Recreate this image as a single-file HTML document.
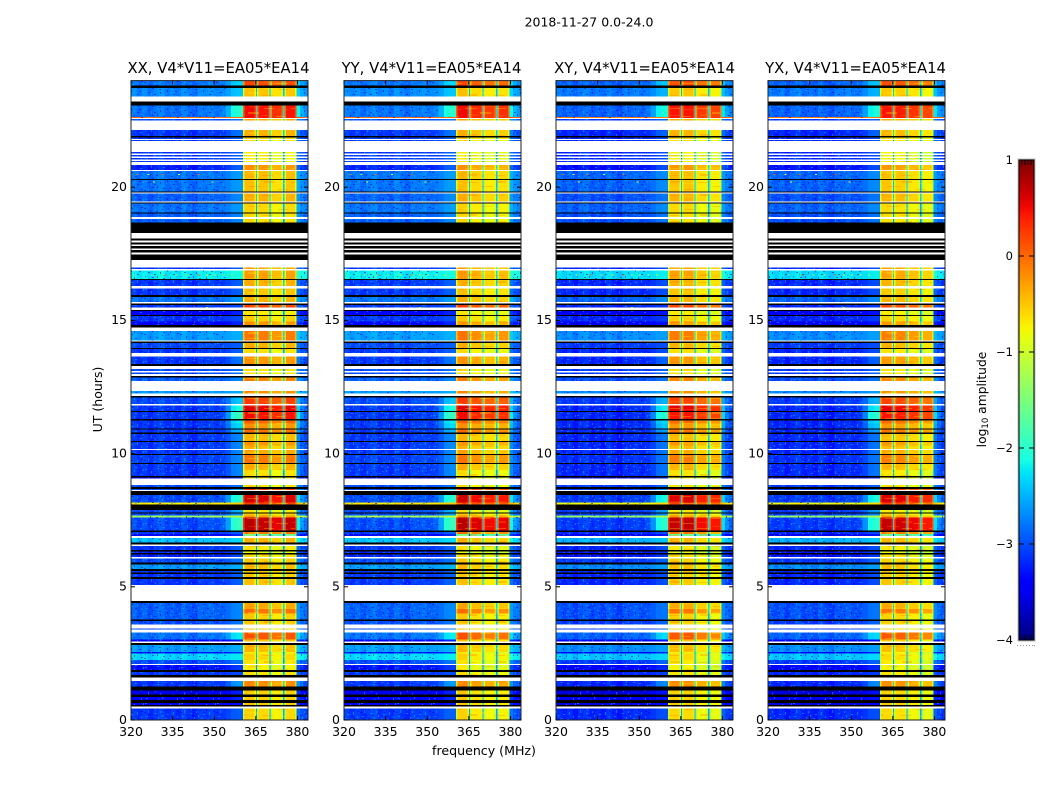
<!DOCTYPE html>
<html lang="en">
<head>
<meta charset="utf-8">
<title>2018-11-27 0.0-24.0</title>
<style>
html,body{margin:0;padding:0;background:#fff}
svg{display:block}
text{font-family:"DejaVu Sans","Liberation Sans",sans-serif;fill:#000}
</style>
</head>
<body>
<svg id="fig" xmlns="http://www.w3.org/2000/svg" width="1050" height="800" viewBox="0 0 1050 800">
<defs>
<linearGradient id="cbarGrad" x1="0" y1="1" x2="0" y2="0"></linearGradient>
<pattern id="speckle" patternUnits="userSpaceOnUse" width="36" height="18">
<g fill="#00b4ff" fill-opacity=".55">
<rect x="1" y="1" width="2" height="1"/><rect x="7" y="3" width="1" height="3"/><rect x="13" y="0" width="2" height="1"/><rect x="19" y="5" width="2" height="1"/><rect x="26" y="2" width="1" height="2"/><rect x="32" y="6" width="2" height="1"/><rect x="4" y="8" width="1" height="3"/><rect x="10" y="11" width="2" height="1"/><rect x="16" y="9" width="1" height="2"/><rect x="23" y="12" width="2" height="1"/><rect x="29" y="10" width="1" height="3"/><rect x="2" y="14" width="2" height="1"/><rect x="14" y="15" width="1" height="2"/><rect x="21" y="16" width="2" height="1"/><rect x="33" y="14" width="1" height="2"/><rect x="22" y="3" width="1" height="1"/><rect x="11" y="7" width="1" height="1"/><rect x="27" y="17" width="2" height="1"/><rect x="35" y="1" width="1" height="2"/><rect x="18" y="13" width="1" height="2"/>
</g>
<g fill="#0000d2" fill-opacity=".55">
<rect x="4" y="2" width="2" height="1"/><rect x="10" y="4" width="2" height="1"/><rect x="16" y="2" width="1" height="2"/><rect x="23" y="0" width="1" height="2"/><rect x="29" y="4" width="2" height="1"/><rect x="1" y="6" width="1" height="1"/><rect x="8" y="7" width="2" height="1"/><rect x="13" y="6" width="1" height="2"/><rect x="19" y="8" width="2" height="1"/><rect x="26" y="7" width="1" height="2"/><rect x="33" y="9" width="2" height="1"/><rect x="6" y="12" width="1" height="2"/><rect x="12" y="13" width="2" height="1"/><rect x="18" y="11" width="1" height="1"/><rect x="27" y="14" width="2" height="1"/><rect x="8" y="16" width="2" height="1"/><rect x="30" y="16" width="1" height="1"/><rect x="0" y="10" width="2" height="1"/><rect x="15" y="17" width="2" height="1"/><rect x="31" y="1" width="2" height="1"/><rect x="24" y="10" width="1" height="1"/>
</g>
</pattern>
<pattern id="bandTexture" patternUnits="userSpaceOnUse" width="58" height="20">
<g fill="#ff7800" fill-opacity=".3">
<rect x="2" y="2" width="11" height="1"/><rect x="17" y="6" width="12" height="1"/><rect x="32" y="1" width="10" height="2"/><rect x="46" y="9" width="10" height="1"/><rect x="4" y="14" width="9" height="2"/><rect x="30" y="15" width="11" height="1"/>
</g>
<g fill="#fff000" fill-opacity=".3">
<rect x="1" y="8" width="12" height="1"/><rect x="16" y="12" width="11" height="2"/><rect x="44" y="3" width="12" height="1"/><rect x="32" y="8" width="10" height="1"/><rect x="15" y="18" width="12" height="1"/><rect x="44" y="16" width="9" height="1"/>
</g>
</pattern>
</defs>
<text x="589" y="26.5" font-size="12.5" text-anchor="middle">2018-11-27 0.0-24.0</text>
<text x="484" y="755" font-size="12.6" text-anchor="middle">frequency (MHz)</text>
<text x="0" y="0" font-size="12.5" text-anchor="middle" transform="translate(102 399.5) rotate(-90)">UT (hours)</text>
<g id="panels"></g>
<g id="colorbar"></g>
<text x="0" y="0" font-size="12.3" text-anchor="middle" transform="translate(986 399.5) rotate(-90)">log<tspan font-size="8.5" dy="2">10</tspan><tspan dy="-2"> amplitude</tspan></text>
</svg>
<script>
/* ---------- chart data ---------- */
const panelTitles = ["XX, V4*V11=EA05*EA14", "YY, V4*V11=EA05*EA14", "XY, V4*V11=EA05*EA14", "YX, V4*V11=EA05*EA14"];
const freqTicks = [320, 335, 350, 365, 380];
const utTicks = [0, 5, 10, 15, 20];
const cbarTicks = [-4, -3, -2, -1, 0, 1];
const W = null;   /* masked rows render white */
const K = "k";    /* zero-amplitude rows render black */

/* top UT edge of every time band, read top to bottom; the last band ends at UT 0 */
const rowTops = [
24.00,23.81,23.73,23.40,23.22,23.06,22.64,22.60,
22.55,22.50,22.15,21.92,21.86,21.81,21.77,21.73,
21.32,21.27,21.21,21.15,21.10,21.04,20.98,20.95,
20.83,20.65,20.60,20.30,20.26,19.83,19.80,19.77,
19.46,19.42,19.38,19.05,19.01,18.88,18.81,18.68,
18.28,18.08,18.00,17.93,17.84,17.79,17.69,17.64,
17.54,17.47,17.27,16.99,16.92,16.87,16.56,16.52,
16.29,16.19,15.95,15.87,15.69,15.64,15.58,15.49,
15.39,15.36,15.20,15.17,14.95,14.83,14.74,14.61,
14.24,14.20,14.16,13.96,13.92,13.77,13.64,13.36,
13.29,13.17,13.10,13.05,12.99,12.91,12.85,12.73,
12.35,12.26,12.17,12.11,11.86,11.80,11.60,11.56,
11.29,11.25,11.12,10.95,10.91,10.79,10.74,10.47,10.44,10.30,
10.17,10.14,9.99,9.94,9.64,9.60,9.38,9.16,9.11,
9.06,8.82,8.74,8.67,8.63,8.60,8.45,8.16,
8.08,7.88,7.79,7.76,7.68,7.60,7.11,7.06,
6.99,6.91,6.83,6.66,6.58,6.53,6.38,6.33,
6.27,6.21,6.11,6.07,5.91,5.83,5.66,5.60,
5.53,5.48,5.36,5.30,5.07,4.47,4.40,4.16,
4.00,3.78,3.71,3.59,3.44,3.40,3.28,3.03,
2.94,2.89,2.82,2.56,2.50,2.25,2.10,2.07,
1.88,1.81,1.69,1.60,1.47,1.25,1.10,0.95,
0.87,0.75,0.63,0.56,0.50,0.44
];

/* log10 amplitude per band: [background, band-edge shoulder, 360-380 MHz block] */
const rowLevels = [
[-2.7,-2.2,0.1],K,[-2.6,-2.3,-0.55],W,K,[-2.7,-1.9,0.4],[0.1,0.1,0.4],W,
[-2.9,-2.7,-0.4],W,[-3.0,-2.7,-0.45],K,[-3.0,-2.8,-0.6],W,[-3.0,-2.8,-0.7],W,
[-3.0,-2.8,-0.8],W,[-3.0,-2.8,-0.8],W,[-3.0,-2.8,-0.8],W,[-3.0,-2.8,-0.8],W,
[-3.1,-2.8,-0.3],W,[-2.7,-2.5,-0.5],K,[-2.7,-2.5,-0.55],K,W,[-2.8,-2.6,-0.45],
W,K,[-2.7,-2.5,-0.65],K,[-2.8,-2.6,-0.7],W,[-2.8,-2.6,-0.7],K,
W,K,W,K,W,K,W,K,
W,K,W,[-3.0,-2.8,-0.35],W,[-2.1,-2.0,-0.35],K,[-3.0,-2.8,-0.45],
W,[-3.0,-2.8,-0.55],K,[-2.7,-2.5,-0.45],W,K,[-3.0,-2.9,0.15],W,
K,[-3.3,-3.1,-0.75],K,[-3.0,-2.9,-0.6],[-3.3,-3.1,-0.3],K,W,[-2.5,-2.4,-0.15],
W,K,[-2.9,-2.8,-0.45],K,[-3.0,-2.8,-0.7],W,[-3.0,-2.7,-0.3],K,
W,[-2.9,-2.7,-0.7],W,[-2.9,-2.7,-0.7],W,K,[-2.8,-2.6,-0.2],W,
[-2.5,-2.4,-0.25],W,K,[-2.9,-2.3,0.15],W,[-3.0,-2.0,0.5],K,[-3.0,-1.8,0.4],
K,[-3.0,-2.1,-0.05],[-3.0,-2.2,-0.3],K,[-3.0,-2.4,-0.1],K,[-3.0,-2.6,-0.5],K,[-3.0,-2.6,-0.3],[-3.0,-2.6,-0.5],
W,[-3.0,-2.6,-0.4],K,[-2.95,-2.6,-0.15],K,[-3.0,-2.6,-0.45],[-3.0,-2.6,-0.7],K,[-3.3,-3.0,-0.8],
W,[-2.9,-2.7,-0.7],K,[-2.9,-2.5,0.2],W,K,[-2.9,-1.9,0.55],[-0.6,-0.4,0.15],
K,[-2.9,-2.4,-0.75],K,[-2.9,-2.5,-0.6],[-1.1,-1.0,-0.3],[-2.9,-1.8,0.65],K,[-3.0,-2.8,-0.1],
[-3.3,-3.1,-1.6],W,[-2.3,-2.2,-0.45],K,W,[-3.0,-2.8,-0.75],K,[-3.1,-2.9,-0.9],
K,[-3.1,-2.9,-0.7],W,[-2.9,-2.7,-0.6],K,[-2.5,-2.4,-0.5],K,[-3.0,-2.8,-0.55],
K,[-3.0,-2.8,-0.6],K,[-3.0,-2.8,-0.55],W,K,[-2.8,-2.6,-0.4],[-2.8,-2.6,-0.1],
[-2.8,-2.6,-0.6],K,[-2.9,-2.7,-0.6],W,[-2.9,-2.7,-0.6],W,[-2.7,-2.1,0.05],[-3.3,-3.1,-0.55],
W,K,[-2.5,-2.4,-0.5],[-3.2,-3.0,-0.8],[-2.2,-2.1,-0.65],[-2.9,-2.7,-0.75],W,[-3.2,-3.0,-0.8],
K,[-3.0,-2.9,-0.7],K,W,[-3.0,-2.5,-0.25],K,[-3.4,-3.1,-0.6],K,
[-3.3,-3.1,-0.6],K,[-3.4,-3.2,-0.55],K,W,[-3.0,-2.8,-0.65]
];

/* channel layout and spectral shape */
const bgEdges = [320,322,324,326,328,330,332,334,336,338,340,342,344,346,348,350];
const bgProfile = [0.06,-0.04,0.05,-0.08,0.03,0.1,-0.05,0.02,-0.07,0.08,-0.02,-0.1,0.05,0.02,0.08];
const shoulderEdges = [350,352,354,356,358,360.4];
const shoulderWeights = [0,0.1,0.4,0.9,1];
const blockStarts = [360.4,365.5,370.3,375.4];
const blockEnds = [365,370,374.8,379.6];
const blockEdgeDrop = [-0.45,0,-0.3];
const gapDrop = [-1.9,-1.9,-1.9];
const rightEdges = [379.6,381,382.4,383.8];
const rightWeights = [0.6,0.3,0.15];

/* per-polarisation adjustments: background shift, then one shift per block */
const panelBgShift = [-0.12,-0.1,-0.2,-0.2];
const blockShiftXX = [0.1,0.05,-0.1,0.05];
const blockShiftYY = [0.1,-0.05,-0.15,-0.1];
const blockShiftXY = [0.05,0.05,-0.15,-0.2];
const blockShiftYX = [0.05,0,-0.12,-0.22];

/* isolated RFI spikes: UT, frequency (MHz), log10 amplitude */
const spikeUT = [16.72,16.72,16.72,16.72,16.72,16.72,16.72,16.72,16.72,20.50,20.50,20.50,20.50,20.50,20.22,20.22,15.50];
const spikeFreq = [327,332,336,340,344,347,350,353,356,322,326,331,337,344,328,349,347];
const spikeLevel = [-1,0,-1,-1,0,-1,-1,-1,-1,0,-1,0,-1,0,-1,-1,-1];

/* ---------- layout ---------- */
const NS = "http://www.w3.org/2000/svg";
const panelLeft = [131,344,556,768];
const panelWidth = 177;
const plotTop = 80.6, plotBottom = 720;
const freqMin = 320, freqMax = 383.8, utMax = 24;
const cbarX = 1019, cbarW = 15, cbarTop = 160, cbarBottom = 640, cbarMin = -4, cbarMax = 1;

function fx(p, f) { return panelLeft[p] + (f - freqMin) * panelWidth / (freqMax - freqMin); }
function uy(ut) { return plotBottom - ut * (plotBottom - plotTop) / utMax; }
function cy(v) { return cbarBottom - (v - cbarMin) * (cbarBottom - cbarTop) / (cbarMax - cbarMin); }

function seg(t, pts) {
  for (let i = 1; i < pts.length; i++) {
    if (t <= pts[i][0]) {
      const a = pts[i - 1], b = pts[i];
      return a[1] + (b[1] - a[1]) * (t - a[0]) / (b[0] - a[0]);
    }
  }
  return pts[pts.length - 1][1];
}
function jet(t) {
  t = Math.max(0, Math.min(1, t));
  const r = seg(t, [[0,0],[.35,0],[.66,1],[.89,1],[1,.5]]);
  const g = seg(t, [[0,0],[.125,0],[.375,1],[.64,1],[.91,0],[1,0]]);
  const b = seg(t, [[0,.5],[.11,1],[.34,1],[.65,0],[1,0]]);
  return "rgb(" + Math.round(r * 255) + "," + Math.round(g * 255) + "," + Math.round(b * 255) + ")";
}
function color(v) { return jet((v - cbarMin) / (cbarMax - cbarMin)); }

function mk(tag, attrs, parent) {
  const el = document.createElementNS(NS, tag);
  for (const k in attrs) el.setAttribute(k, attrs[k]);
  parent.appendChild(el);
  return el;
}
function cell(parent, x0, x1, y0, y1, fill) {
  const el = mk("rect", { x: x0, y: y0, width: x1 - x0, height: y1 - y0, fill: fill, "shape-rendering": "crispEdges" }, parent);
  
  
  return el;
}

/* ---------- panels ---------- */
const panelsRoot = document.getElementById("panels");
const blockShifts = [blockShiftXX, blockShiftYY, blockShiftXY, blockShiftYX];

panelTitles.forEach(function (title, p) {
  const g = mk("g", {}, panelsRoot);
  
  
  const left = panelLeft[p], right = left + panelWidth;

  const heat = mk("g", {}, g);
  
  

  rowTops.forEach(function (top, r) {
    const bottom = r + 1 < rowTops.length ? rowTops[r + 1] : 0;
    const lv = rowLevels[r];
    const y0 = uy(top), y1 = uy(bottom);
    if (lv === W) return;
    if (lv === K) { cell(heat, left, right, y0, y1, "#000"); return; }
    const bg = lv[0] + panelBgShift[p], sh = lv[1] + panelBgShift[p], band = lv[2];
    bgProfile.forEach(function (d, i) {
      cell(heat, fx(p, bgEdges[i]), fx(p, bgEdges[i + 1]), y0, y1, color(bg + d));
    });
    shoulderWeights.forEach(function (w, i) {
      cell(heat, fx(p, shoulderEdges[i]), fx(p, shoulderEdges[i + 1]), y0, y1, color(bg + w * (sh - bg)));
    });
    blockStarts.forEach(function (s, b) {
      const e = blockEnds[b], v = band + blockShifts[p][b];
      const edges = [s, s + 0.5, e - 0.5, e];
      blockEdgeDrop.forEach(function (d, j) {
        cell(heat, fx(p, edges[j]), fx(p, edges[j + 1]), y0, y1, color(v + d));
      });
      if (b < gapDrop.length) {
        cell(heat, fx(p, e), fx(p, blockStarts[b + 1]), y0, y1, color(Math.min(band + gapDrop[b], -2.3)));
      }
    });
    rightWeights.forEach(function (w, i) {
      cell(heat, fx(p, rightEdges[i]), fx(p, rightEdges[i + 1]), y0, y1, color(bg + w * (sh - bg + 0.3)));
    });
    const tex = mk("rect", { x: left, y: y0, width: fx(p, 354) - left, height: y1 - y0, fill: "url(#speckle)", "shape-rendering": "crispEdges" }, heat);
    
    
    const texR = mk("rect", { x: fx(p, 381), y: y0, width: right - fx(p, 381), height: y1 - y0, fill: "url(#speckle)", "shape-rendering": "crispEdges" }, heat);
    
    
    const texB = mk("rect", { x: fx(p, 360.8), y: y0, width: fx(p, 379.2) - fx(p, 360.8), height: y1 - y0, fill: "url(#bandTexture)", "shape-rendering": "crispEdges" }, heat);
    
    
  });

  spikeUT.forEach(function (ut, i) {
    const s = mk("rect", { x: fx(p, spikeFreq[i]), y: uy(ut), width: 2, height: 1, fill: color(spikeLevel[i]), "shape-rendering": "crispEdges" }, heat);
    
    
  });

  const frame = mk("rect", { x: left, y: plotTop, width: panelWidth, height: plotBottom - plotTop, fill: "none", stroke: "#222", "stroke-width": 1 }, g);
  
  

  freqTicks.forEach(function (f) {
    const x = fx(p, f);
    const t1 = mk("line", { x1: x, x2: x, y1: plotBottom, y2: plotBottom - 4, stroke: "#000" }, g);
    
    
    const t2 = mk("line", { x1: x, x2: x, y1: plotTop, y2: plotTop + 4, stroke: "#000" }, g);
    
    
    const lab = mk("text", { x: x, y: 736, "font-size": 12.5, "text-anchor": "middle" }, g);
    
    
    lab.textContent = f;
  });
  utTicks.forEach(function (u) {
    const y = uy(u);
    const t1 = mk("line", { x1: left, x2: left + 4, y1: y, y2: y, stroke: "#000" }, g);
    
    
    const t2 = mk("line", { x1: right, x2: right - 4, y1: y, y2: y, stroke: "#000" }, g);
    
    
    const lab = mk("text", { x: left - 4, y: y + 3.8, "font-size": 12.5, "text-anchor": "end" }, g);
    
    
    lab.textContent = u;
  });
  const tt = mk("text", { x: left + panelWidth / 2 + (p === 2 ? 0 : -1), y: 73, "font-size": 14.8, "text-anchor": "middle" }, g);
  
  
  tt.textContent = title;
});

/* ---------- colour bar ---------- */
const grad = document.getElementById("cbarGrad");
for (let i = 0; i <= 40; i++) {
  const t = i / 40;
  mk("stop", { offset: t, "stop-color": jet(t) }, grad);
}
const cbar = document.getElementById("colorbar");
const outer = mk("rect", { x: cbarX - 0.5, y: cbarTop - 0.5, width: cbarW + 1, height: cbarBottom - cbarTop + 1, fill: "none", stroke: "#bbb", "stroke-width": 2 }, cbar);


const ramp = mk("rect", { x: cbarX, y: cbarTop, width: cbarW, height: cbarBottom - cbarTop, fill: "url(#cbarGrad)", stroke: "#000", "stroke-width": 1 }, cbar);


cbarTicks.forEach(function (v) {
  const y = cy(v);
  if (v !== cbarMin && v !== cbarMax) {
    const a = mk("line", { x1: cbarX, x2: cbarX + 5, y1: y, y2: y, stroke: "#000" }, cbar);
    
    
    const b = mk("line", { x1: cbarX + cbarW - 5, x2: cbarX + cbarW, y1: y, y2: y, stroke: "#000" }, cbar);
    
    
  }
  const lab = mk("text", { x: cbarX - 6, y: y + 4, "font-size": 11.5, "text-anchor": "end" }, cbar);
  
  
  lab.textContent = (v < 0 ? "\u2212" + (-v) : v);
});
[1022, 1025, 1028, 1031].forEach(function (x) {
  const a = mk("line", { x1: x, x2: x, y1: cbarTop, y2: cbarTop + 5, stroke: "#000" }, cbar);
  
  
  const b = mk("line", { x1: x, x2: x, y1: cbarBottom, y2: cbarBottom - 5, stroke: "#000" }, cbar);
  
  
});
[1017, 1020, 1023, 1026, 1029, 1032, 1034].forEach(function (x) {
  const d = mk("rect", { x: x, y: 645, width: 1, height: 1, fill: "#999" }, cbar);
  
  
});
</script>
</body>
</html>
